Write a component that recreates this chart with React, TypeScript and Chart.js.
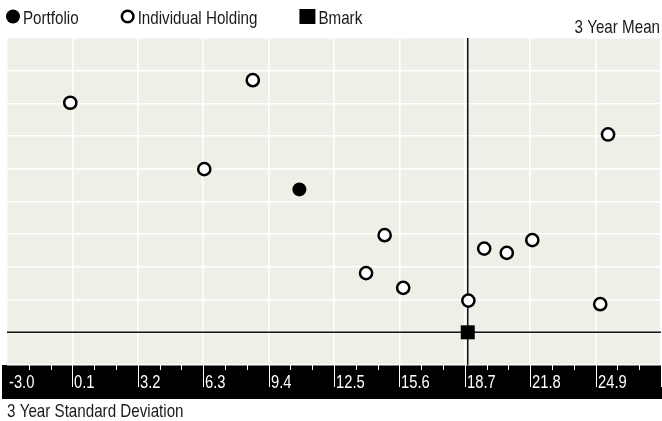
import { useEffect, useRef } from 'react';
import { Chart, registerables } from 'chart.js';

Chart.register(...registerables);

const FONT = "'Liberation Sans', Arial, sans-serif";
const NARROW = 0.82; // Liberation Sans resserré façon Arial Narrow

// x = 3 Year Standard Deviation, y = 3 Year Mean
const portfolioX = [10.86];
const portfolioY = [4.37];
const holdingX = [0.0, 8.65, 6.35, 14.9, 14.02, 15.78, 18.87, 19.62, 20.69, 21.9, 25.49, 25.12];
const holdingY = [7.02, 7.71, 4.99, 2.97, 1.81, 1.36, 0.97, 2.56, 2.43, 2.82, 6.05, 0.86];
const bmarkX = [18.84];
const bmarkY = [0.0];

const seriesNames = ['Portfolio', 'Individual Holding', 'Bmark'];
const xTickValues = [-3.0, 0.1, 3.2, 6.3, 9.4, 12.5, 15.6, 18.7, 21.8, 24.9];
const xMax = 28.0;
const yMin = -1;
const yMax = 9;

const toPoints = (xs: number[], ys: number[]) => xs.map((x, i) => ({ x, y: ys[i] }));

function narrowText(ctx: CanvasRenderingContext2D, text: string, x: number, y: number, align: CanvasTextAlign, size: number) {
  ctx.save();
  ctx.translate(x, y);
  ctx.scale(NARROW, 1);
  ctx.font = `${size}px ${FONT}`;
  ctx.textAlign = align;
  ctx.textBaseline = 'alphabetic';
  ctx.fillText(text, 0, 0);
  const w = ctx.measureText(text).width * NARROW;
  ctx.restore();
  return w;
}

const backgroundPlugin = {
  id: 'backgroundPlugin',
  beforeDraw(chart: any) {
    const { ctx, chartArea, width } = chart;
    const xs = chart.scales.x;
    ctx.save();
    ctx.fillStyle = '#f0efe7';
    ctx.fillRect(chartArea.left, chartArea.top, chartArea.right - chartArea.left, chartArea.bottom - chartArea.top);
    ctx.fillStyle = '#000';
    ctx.fillRect(chartArea.left - 5, xs.top, width - chartArea.left + 5, xs.bottom - xs.top);
    ctx.restore();
  },
  beforeDatasetsDraw(chart: any) {
    const { ctx, chartArea } = chart;
    const xs = chart.scales.x;
    const ys = chart.scales.y;
    ctx.save();
    // graduations et libellés dans la bande noire
    ctx.strokeStyle = '#fff';
    ctx.fillStyle = '#fff';
    ctx.lineWidth = 1;
    const ticks = xs.ticks;
    ticks.forEach((t: any, i: number) => {
      const px = Math.round(xs.getPixelForValue(t.value)) + 0.5;
      if (i > 0) {
        ctx.beginPath();
        ctx.moveTo(px, xs.top);
        ctx.lineTo(px, xs.top + 22);
        ctx.stroke();
      }
      if (i < xTickValues.length) {
        narrowText(ctx, t.value.toFixed(1), px + 1.5, xs.top + 23, 'left', 18);
      }
      if (i < ticks.length - 1) {
        const step = ticks[i + 1].value - t.value;
        [1 / 3, 2 / 3].forEach((f) => {
          const mx = Math.round(xs.getPixelForValue(t.value + step * f)) + 0.5;
          ctx.beginPath();
          ctx.moveTo(mx, xs.top);
          ctx.lineTo(mx, xs.top + 5);
          ctx.stroke();
        });
      }
    });
    // croix du benchmark
    const bx = xs.getPixelForValue(bmarkX[0]);
    const by = ys.getPixelForValue(bmarkY[0]);
    ctx.strokeStyle = '#111';
    ctx.lineWidth = 1.5;
    ctx.beginPath();
    ctx.moveTo(bx, chartArea.top);
    ctx.lineTo(bx, chartArea.bottom);
    ctx.moveTo(chartArea.left, by);
    ctx.lineTo(chartArea.right, by);
    ctx.stroke();
    ctx.restore();
  },
  afterDraw(chart: any) {
    const { ctx, chartArea } = chart;
    ctx.save();

    // légende
    let cursor = 6;
    const cy = 16.5;
    chart.data.datasets.forEach((ds: any) => {
      let w = 14;
      ctx.lineWidth = 2.5;
      ctx.strokeStyle = ds.borderColor;
      ctx.fillStyle = ds.backgroundColor;
      if (ds.pointStyle === 'rect') {
        w = 16;
        ctx.fillRect(cursor, cy - 7.5, w, 15);
      } else {
        ctx.beginPath();
        if (ds.borderWidth > 0) {
          ctx.arc(cursor + 7, cy, 5.8, 0, Math.PI * 2);
          ctx.fill();
          ctx.stroke();
        } else {
          ctx.arc(cursor + 7, cy, 7, 0, Math.PI * 2);
          ctx.fill();
        }
      }
      ctx.fillStyle = '#1a1a1a';
      const tx = cursor + w + 3;
      const tw = narrowText(ctx, ds.label, tx, 23.5, 'left', 18.5);
      cursor = tx + tw + 42;
    });

    ctx.fillStyle = '#1a1a1a';
    narrowText(ctx, '3 Year Mean', 660, 32.7, 'right', 18.5);
    narrowText(ctx, '3 Year Standard Deviation', chartArea.left, 416.5, 'left', 18.5);
    ctx.restore();
  },
};

export default function App() {
  const chartRef = useRef<HTMLCanvasElement>(null);
  const chartInstance = useRef<Chart | null>(null);

  useEffect(() => {
    if (!chartRef.current) return;
    document.body.style.margin = '0';

    if (chartInstance.current) {
      chartInstance.current.destroy();
    }

    const ctx = chartRef.current.getContext('2d');
    if (!ctx) return;

    chartInstance.current = new Chart(ctx, {
      type: 'scatter',
      data: {
        datasets: [
          {
            label: seriesNames[0],
            data: toPoints(portfolioX, portfolioY),
            pointStyle: 'circle',
            pointRadius: 7,
            backgroundColor: '#000',
            borderColor: '#000',
            borderWidth: 0,
          },
          {
            label: seriesNames[1],
            data: toPoints(holdingX, holdingY),
            pointStyle: 'circle',
            pointRadius: 6.1,
            backgroundColor: '#fff',
            borderColor: '#000',
            borderWidth: 2.5,
          },
          {
            label: seriesNames[2],
            data: toPoints(bmarkX, bmarkY),
            pointStyle: 'rect',
            pointRadius: 9.9,
            backgroundColor: '#000',
            borderColor: '#000',
            borderWidth: 0,
          },
        ],
      },
      options: {
        responsive: false,
        animation: false,
        layout: { autoPadding: false, padding: { top: 38, left: 7, right: 1, bottom: 22 } },
        plugins: {
          legend: { display: false },
          tooltip: { enabled: false },
        },
        scales: {
          x: {
            type: 'linear',
            min: xTickValues[0],
            max: xMax,
            afterBuildTicks: (scale: any) => {
              scale.ticks = [...xTickValues, xMax].map((value) => ({ value }));
            },
            afterFit: (scale: any) => {
              scale.height = 34;
            },
            grid: { color: '#fff', lineWidth: 1.5, drawTicks: false },
            border: { display: false },
            ticks: { display: false },
          },
          y: {
            type: 'linear',
            min: yMin,
            max: yMax,
            afterFit: (scale: any) => {
              scale.width = 0;
            },
            grid: { color: '#fff', lineWidth: 1.5, drawTicks: false },
            border: { display: false },
            ticks: { display: false, stepSize: 1 },
          },
        },
      },
      plugins: [backgroundPlugin],
    });

    return () => {
      if (chartInstance.current) {
        chartInstance.current.destroy();
        chartInstance.current = null;
      }
    };
  }, []);

  return (
    <div style={{ width: 662, height: 421 }}>
      <canvas ref={chartRef} width={662} height={421}></canvas>
    </div>
  );
}
